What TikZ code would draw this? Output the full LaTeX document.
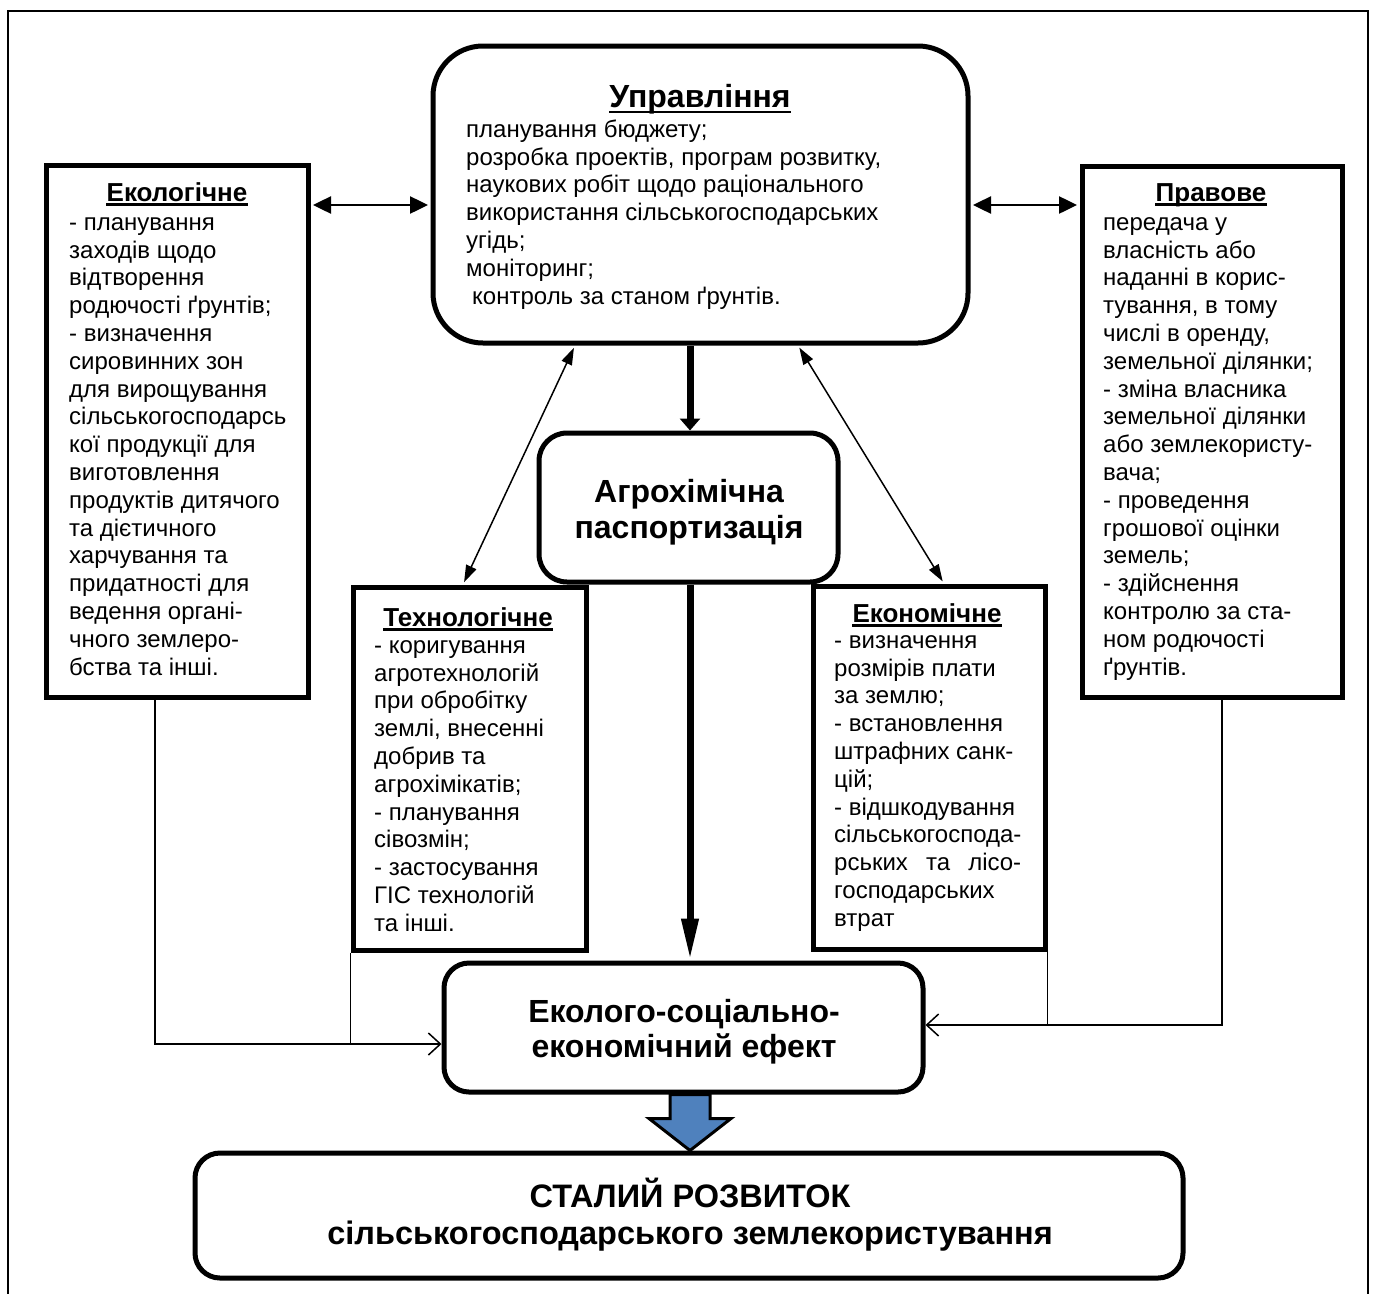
\documentclass[tikz,border=0pt]{standalone}
\usepackage{fontspec}
\setmainfont{Liberation Sans}
\usetikzlibrary{arrows.meta,calc}
\definecolor{arrowblue}{HTML}{4F81BD}
\tikzset{
  box/.style={draw, line width=5pt, inner sep=0pt},
  rbox/.style={box, rounded corners=#1},
  bodytext/.style={anchor=north west, inner sep=0pt, align=left, font=\fontsize{24}{27.8}\selectfont},
  ttl/.style={anchor=base, inner sep=0pt, font=\fontsize{26}{30}\selectfont\bfseries},
  bigtext/.style={anchor=north, inner sep=0pt, align=center, font=\fontsize{32}{36}\selectfont\bfseries},
  uline/.style={line width=2.5pt},
  harrow/.style={line width=2.5pt, shorten <=2.5pt, shorten >=2.5pt,
    {Triangle[width=17pt,length=18pt]}-{Triangle[width=17pt,length=18pt]}},
  darrow/.style={line width=1.5pt, shorten <=2.5pt, shorten >=2.5pt,
    {Triangle[width=11pt,length=17pt]}-{Triangle[width=11pt,length=17pt]}},
  tharrow/.style={line width=7pt, -{Triangle[width=20pt,length=12pt]}},
  tharrowb/.style={line width=7pt, -{Triangle[width=16pt,length=42pt]}},
  fbline/.style={line width=1.5pt},
  fbarrow/.style={fbline, -{Straight Barb[length=12pt,width=22pt]}},
  bluearrow/.style={line width=3pt, draw=black, fill=arrowblue, line join=miter},
}
\begin{document}
\lineskiplimit=-100pt
\lineskip=0pt
\begin{tikzpicture}[x=1pt,y=-1pt]
\useasboundingbox (0,0) rectangle (1375,1293);
% outer frame
\draw[line width=1.5pt] (8,1300) -- (8,11) -- (1368,11) -- (1368,1300);

% boxes
\node[rbox=50pt, minimum width=535pt, minimum height=297pt] (upr) at (700.5,194.5) {};
\node[box, minimum width=262pt, minimum height=532pt] (eco) at (177,431) {};
\node[box, minimum width=260pt, minimum height=531pt] (prav) at (1212,431.5) {};
\node[rbox=28pt, minimum width=299pt, minimum height=149pt] (agro) at (688.5,507.5) {};
\node[box, minimum width=233pt, minimum height=363pt] (tech) at (469.5,768.5) {};
\node[box, minimum width=232pt, minimum height=363pt] (econ) at (929,767.5) {};
\node[rbox=25pt, minimum width=479pt, minimum height=129pt] (eff) at (683.5,1027.5) {};
\node[rbox=25pt, minimum width=988pt, minimum height=125pt] (stal) at (689,1215.5) {};

% Управління
\node[ttl, font=\fontsize{32}{36}\selectfont\bfseries] (uprT) at (700,107) {Управління};
\draw[uline] ([yshift=-5pt]uprT.base west) -- ([yshift=-5pt]uprT.base east);
\node[bodytext] (uprB) at (466,112) {\rule{0pt}{25pt}планування бюджету;\\
розробка проектів, програм розвитку,\\
наукових робіт щодо раціонального\\
використання сільськогосподарських\\
угідь;\\
моніторинг;\\
\hspace*{6pt}контроль за станом ґрунтів.};

% Екологічне
\node[ttl] (ecoT) at (177,201) {Екологічне};
\draw[uline] ([yshift=-3.5pt]ecoT.base west) -- ([yshift=-3.5pt]ecoT.base east);
\node[bodytext] (ecoB) at (69,205) {\rule{0pt}{25pt}- планування\\
заходів щодо\\
відтворення\\
родючості ґрунтів;\\
- визначення\\
сировинних зон\\
для вирощування\\
сільськогосподарсь\\
кої продукції для\\
виготовлення\\
продуктів дитячого\\
та дієтичного\\
харчування та\\
придатності для\\
ведення органі-\\
чного землеро-\\
бства та інші.};

% Правове
\node[ttl] (pravT) at (1211,201) {Правове};
\draw[uline] ([yshift=-3.5pt]pravT.base west) -- ([yshift=-3.5pt]pravT.base east);
\node[bodytext] (pravB) at (1103,205) {\rule{0pt}{25pt}передача у\\
власність або\\
наданні в корис-\\
тування, в тому\\
числі в оренду,\\
земельної ділянки;\\
- зміна власника\\
земельної ділянки\\
або землекористу-\\
вача;\\
- проведення\\
грошової оцінки\\
земель;\\
- здійснення\\
контролю за ста-\\
ном родючості\\
ґрунтів.};

% Технологічне
\node[ttl] (techT) at (468,626) {Технологічне};
\draw[uline] ([yshift=-3.5pt]techT.base west) -- ([yshift=-3.5pt]techT.base east);
\node[bodytext] (techB) at (374,628) {\rule{0pt}{25pt}- коригування\\
агротехнологій\\
при обробітку\\
землі, внесенні\\
добрив та\\
агрохімікатів;\\
- планування\\
сівозмін;\\
- застосування\\
ГІС технологій\\
та інші.};

% Економічне
\node[ttl] (econT) at (927,622) {Економічне};
\draw[uline] ([yshift=-3.5pt]econT.base west) -- ([yshift=-3.5pt]econT.base east);
\node[bodytext] (econB) at (834,623) {\rule{0pt}{25pt}- визначення\\
розмірів плати\\
за землю;\\
- встановлення\\
штрафних санк-\\
цій;\\
- відшкодування\\
сільськогоспода-\\
\makebox[187pt][l]{рських\hfill та\hfill лісо-}\\
господарських\\
втрат};

% big texts
\node[bigtext] (agroT) at (689,467) {\rule{0pt}{35pt}Агрохімічна\\паспортизація};
\node[bigtext, font=\fontsize{32}{35}\selectfont\bfseries] (effT) at (684,987) {\rule{0pt}{35pt}Еколого-соціально-\\економічний ефект};
\node[bigtext, font=\fontsize{32.5}{37}\selectfont\bfseries] (stalT) at (690,1172) {\rule{0pt}{35pt}СТАЛИЙ РОЗВИТОК\\сільськогосподарського землекористування};

% connectors
\coordinate (hy) at (0,205);
\draw[harrow] (eco.east |- hy) -- (upr.west |- hy);
\draw[harrow] (upr.east |- hy) -- (prav.west |- hy);

\coordinate (d1) at (575,0);
\coordinate (d2) at (463,0);
\coordinate (d3) at (798,0);
\coordinate (d4) at (944,0);
\draw[darrow] (upr.south -| d1) -- (tech.north -| d2);
\draw[darrow] (upr.south -| d3) -- (econ.north -| d4);

\coordinate (cx) at (690,0);
\draw[tharrow] (upr.south -| cx) -- (agro.north -| cx);
\draw[tharrowb] (agro.south -| cx) -- (eff.north -| cx);

\coordinate (fl) at (0,1044);
\coordinate (fr) at (0,1025);
\coordinate (ex) at (155,0);
\coordinate (px) at (1222,0);
\draw[fbarrow] (eco.south -| ex) |- (eff.west |- fl);
\draw[fbline] (tech.south west) -- (tech.south west |- fl);
\draw[fbline] (econ.south east) -- (econ.south east |- fr);
\draw[fbarrow] (prav.south -| px) |- (eff.east |- fr);

% block arrow
\coordinate (tip) at (stal.north -| cx);
\draw[bluearrow] ($(eff.south -| tip)+(-20,0)$) -- ($(tip)+(-20,-32)$) -- ($(tip)+(-41,-32)$)
  -- (tip) -- ($(tip)+(41,-32)$) -- ($(tip)+(20,-32)$) -- ($(eff.south -| tip)+(20,0)$) -- cycle;
\end{tikzpicture}
\end{document}
